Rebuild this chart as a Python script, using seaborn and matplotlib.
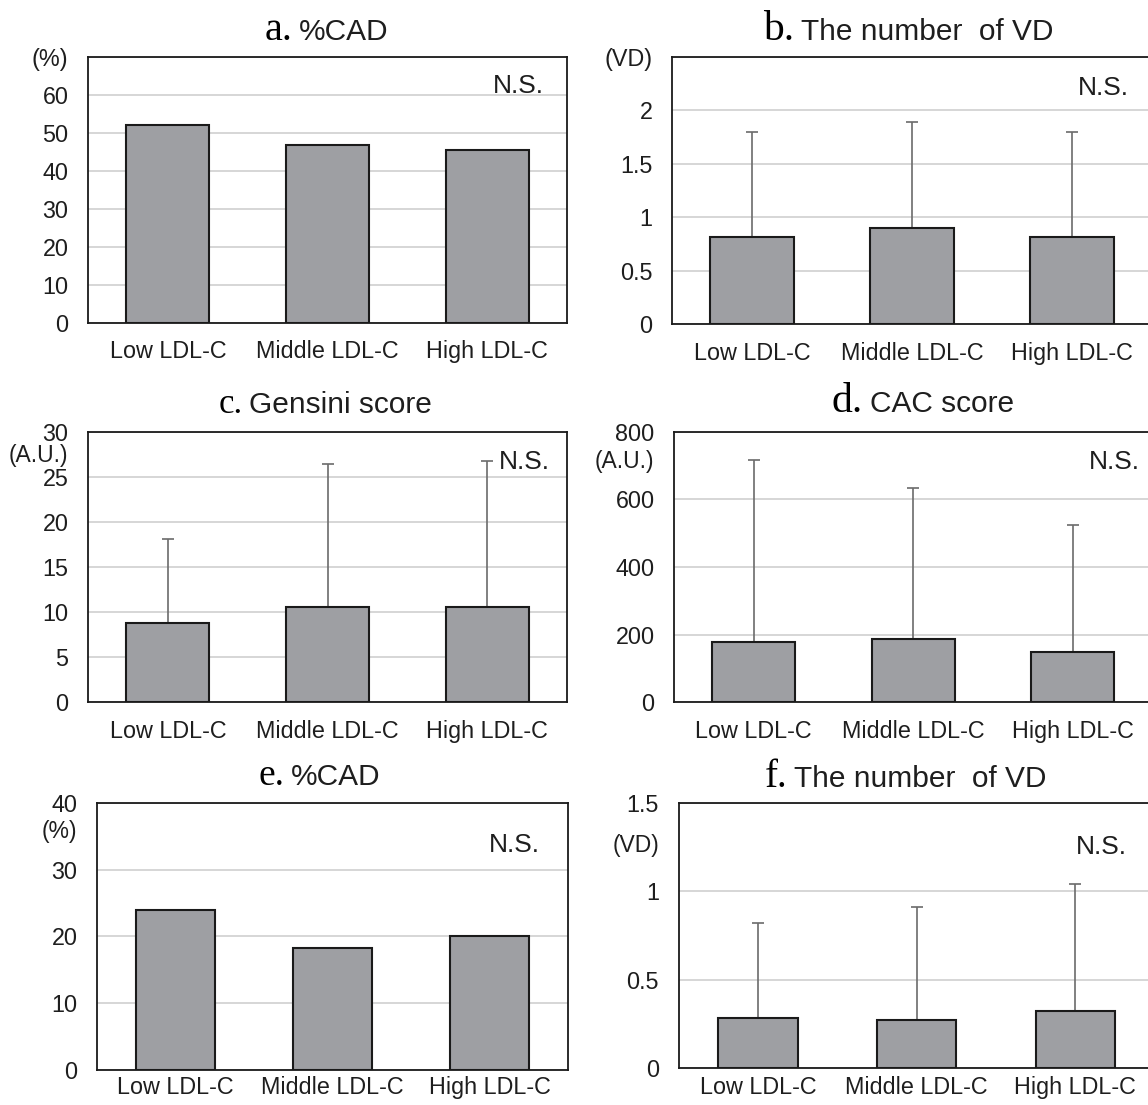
import numpy as np
import pandas as pd
import matplotlib
matplotlib.use("Agg")
import matplotlib.pyplot as plt
import seaborn as sns

# groups on the x axis (same for every panel)
groups = ["Low LDL-C", "Middle LDL-C", "High LDL-C"]

# a. %CAD
cad_a = [52.0, 46.9, 45.4]
# b. number of VD (mean, SD)
vd_b = [0.81, 0.90, 0.81]
vd_b_sd = [0.99, 0.99, 0.99]
# c. Gensini score
gensini = [8.8, 10.5, 10.5]
gensini_sd = [9.3, 15.9, 16.3]
# d. CAC score
cac = [179, 187, 149]
cac_sd = [539, 446, 375]
# e. %CAD
cad_e = [24.0, 18.3, 20.1]
# f. number of VD
vd_f = [0.28, 0.27, 0.32]
vd_f_sd = [0.54, 0.64, 0.72]

yticks_a = [0, 10, 20, 30, 40, 50, 60, 70]
ylabels_a = ["0", "10", "20", "30", "40", "50", "60", "(%)"]
yticks_b = [0, 0.5, 1, 1.5, 2, 2.5]
ylabels_b = ["0", "0.5", "1", "1.5", "2", "(VD)"]
yticks_c = [0, 5, 10, 15, 20, 25, 30]
yticks_d = [0, 200, 400, 600, 800]
yticks_e = [0, 10, 20, 30, 40]
yticks_f = [0, 0.5, 1, 1.5]

sns.set_theme(style="white")
plt.rcParams["font.family"] = ["Liberation Sans", "DejaVu Sans"]

BAR = "#9e9fa3"
EDGE = "#1a1a1a"
TXT = "#1e1e1e"
W, H = 1148, 1105

fig = plt.figure(figsize=(W / 100, H / 100), dpi=100)


def make_ax(left, top, right, bottom):
    # pixel box -> figure fraction
    return fig.add_axes([left / W, 1 - bottom / H, (right - left) / W, (bottom - top) / H])


def draw(ax, means, sds, width, ymax, ticks, labels, xpad):
    sns.barplot(x=groups, y=means, color=BAR, saturation=1, edgecolor=EDGE,
                linewidth=1.5, width=width, ax=ax, zorder=3)
    if sds is not None:
        ax.errorbar(np.arange(len(groups)), means, yerr=[np.zeros(len(sds)), sds],
                    fmt="none", ecolor="#6b6b6b", elinewidth=1.2, capsize=4,
                    capthick=1.2, zorder=2)
    ax.set_xlim(-0.5, 2.5)
    ax.set_ylim(0, ymax)
    ax.set_yticks(ticks)
    ax.set_yticklabels(labels)
    ax.yaxis.grid(True, color="#d3d3d3", lw=1.3)
    ax.set_axisbelow(True)
    ax.set_xlabel("")
    ax.set_ylabel("")
    ax.tick_params(axis="both", length=0, labelsize=16.8, labelcolor=TXT)
    ax.tick_params(axis="y", pad=14)
    ax.tick_params(axis="x", pad=xpad)
    for s in ax.spines.values():
        s.set_color(EDGE)
        s.set_linewidth(1.3)


def title(ax, letter, text, split, lsize, off_px):
    ax.annotate(letter, xy=(split, 1), xycoords="axes fraction", xytext=(-2, off_px * 0.72),
                textcoords="offset points", ha="right", va="baseline",
                family="Liberation Serif", fontsize=lsize, color="black")
    ax.annotate(text, xy=(split, 1), xycoords="axes fraction", xytext=(3, off_px * 0.72),
                textcoords="offset points", ha="left", va="baseline",
                fontsize=21.5, color=TXT)


def ns(ax, x, y):
    ax.text(x, y, "N.S.", transform=ax.transAxes, ha="center", va="center",
            fontsize=19, color=TXT)


def unit(ax, text, yval):
    ax.annotate(text, xy=(0, yval), xycoords=("axes fraction", "data"),
                xytext=(-14, 0), textcoords="offset points", ha="right",
                va="center", fontsize=16.5, color=TXT, annotation_clip=False)


# a
ax = make_ax(88, 57, 567, 322.7)
draw(ax, cad_a, None, 0.52, 70, yticks_a, ylabels_a, 12.5)
title(ax, "a.", "%CAD", 0.432, 29, 16.5)
ns(ax, 0.898, 0.89)

# b
ax = make_ax(672, 57, 1152, 324)
draw(ax, vd_b, vd_b_sd, 0.53, 2.5, yticks_b, ylabels_b, 13)
title(ax, "b.", "The number  of VD", 0.26, 30, 17)
ns(ax, 0.899, 0.884)

# c
ax = make_ax(88, 431.7, 567, 701.7)
draw(ax, gensini, gensini_sd, 0.52, 30, yticks_c, [str(t) for t in yticks_c], 13)
title(ax, "c.", "Gensini score", 0.328, 25, 18.4)
ns(ax, 0.911, 0.889)
unit(ax, "(A.U.)", 27.4)

# d
ax = make_ax(674, 432, 1152.5, 702)
draw(ax, cac, cac_sd, 0.52, 800, yticks_d, [str(t) for t in yticks_d], 13)
title(ax, "d.", "CAC score", 0.401, 30, 19.5)
ns(ax, 0.92, 0.89)
unit(ax, "(A.U.)", 712)

# e
ax = make_ax(97, 802.7, 568, 1070)
draw(ax, cad_e, None, 0.5, 40, yticks_e, [str(t) for t in yticks_e], 4.5)
title(ax, "e.", "%CAD", 0.403, 27, 17.7)
ns(ax, 0.887, 0.842)
unit(ax, "(%)", 35.7)

# f
ax = make_ax(678.5, 802.7, 1154.5, 1068)
draw(ax, vd_f, vd_f_sd, 0.5, 1.5, yticks_f, ["0", "0.5", "1", "1.5"], 6)
title(ax, "f.", "The number  of VD", 0.234, 28, 16)
ns(ax, 0.889, 0.834)
unit(ax, "(VD)", 1.26)

fig.savefig("out.png", dpi=100)
